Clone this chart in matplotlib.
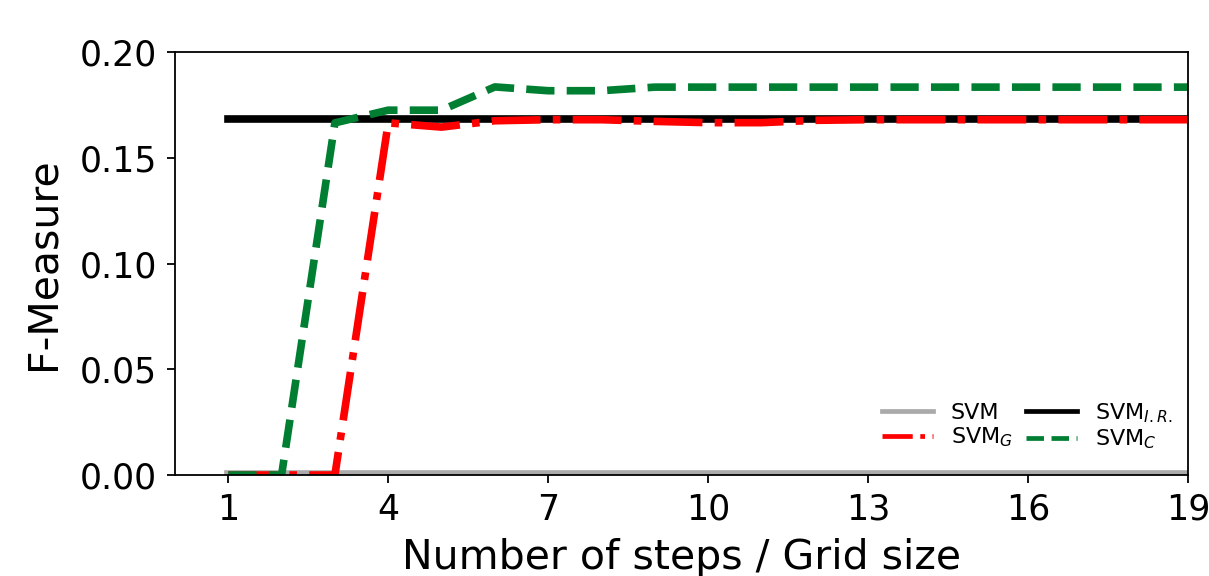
import numpy as np
import matplotlib
matplotlib.use("Agg")
import matplotlib.pyplot as plt

# x axis: number of steps / grid size
steps = list(range(1, 20))

f_svm = [0.0003] * 19
f_svm_ir = [0.1685] * 19
f_svm_g = [0.0, 0.0, 0.0, 0.1665, 0.1645, 0.1675, 0.168, 0.168, 0.1672,
           0.1666, 0.1666, 0.1677, 0.168, 0.168, 0.168, 0.168, 0.168, 0.168, 0.168]
f_svm_c = [0.0, 0.0, 0.1665, 0.1725, 0.1725, 0.1835, 0.1817, 0.1817, 0.1834,
           0.1834, 0.1834, 0.1834, 0.1834, 0.1834, 0.1834, 0.1834, 0.1834, 0.1834, 0.1834]

xticks = [1, 4, 7, 10, 13, 16, 19]
yticks = [0.00, 0.05, 0.10, 0.15, 0.20]

fig = plt.figure(figsize=(12.09, 5.76), dpi=100)
ax = fig.add_subplot(111)
fig.subplots_adjust(left=0.1447, right=0.9826, top=0.9097, bottom=0.1753)

lw = 5.5
ax.plot(steps, f_svm, color='#aaaaaa', lw=lw, label='SVM')
ax.plot(steps, f_svm_ir, color='black', lw=lw, label='SVM$_{I.R.}$')
ax.plot(steps, f_svm_g, color='#ff0000', lw=lw, ls='-.', label='SVM$_G$')
ax.plot(steps, f_svm_c, color='#007f33', lw=lw, ls='--', label='SVM$_C$')

ax.set_xlim(0, 19)
ax.set_ylim(0, 0.20)
ax.set_xticks(xticks)
ax.set_yticks(yticks)
ax.set_yticklabels(["%.2f" % v for v in yticks])
ax.tick_params(labelsize=25, length=5.8, width=1.3, pad=7)
for s in ax.spines.values():
    s.set_linewidth(1.3)

ax.set_xlabel("Number of steps / Grid size", fontsize=29.5, labelpad=8)
ax.set_ylabel("F-Measure", fontsize=29.5, labelpad=12)

# legend order: SVM, SVM_G | SVM_I.R., SVM_C
h, l = ax.get_legend_handles_labels()
order = [0, 2, 1, 3]
leg = ax.legend([h[i] for i in order], [l[i] for i in order], ncol=2, frameon=False,
                fontsize=16, handlelength=2.3, columnspacing=0.6, labelspacing=0.12,
                loc='lower right', bbox_to_anchor=(1.0, 0.02), borderaxespad=0.3)
for line in leg.get_lines():
    line.set_linewidth(3.4)

fig.savefig("out.png", dpi=100)
